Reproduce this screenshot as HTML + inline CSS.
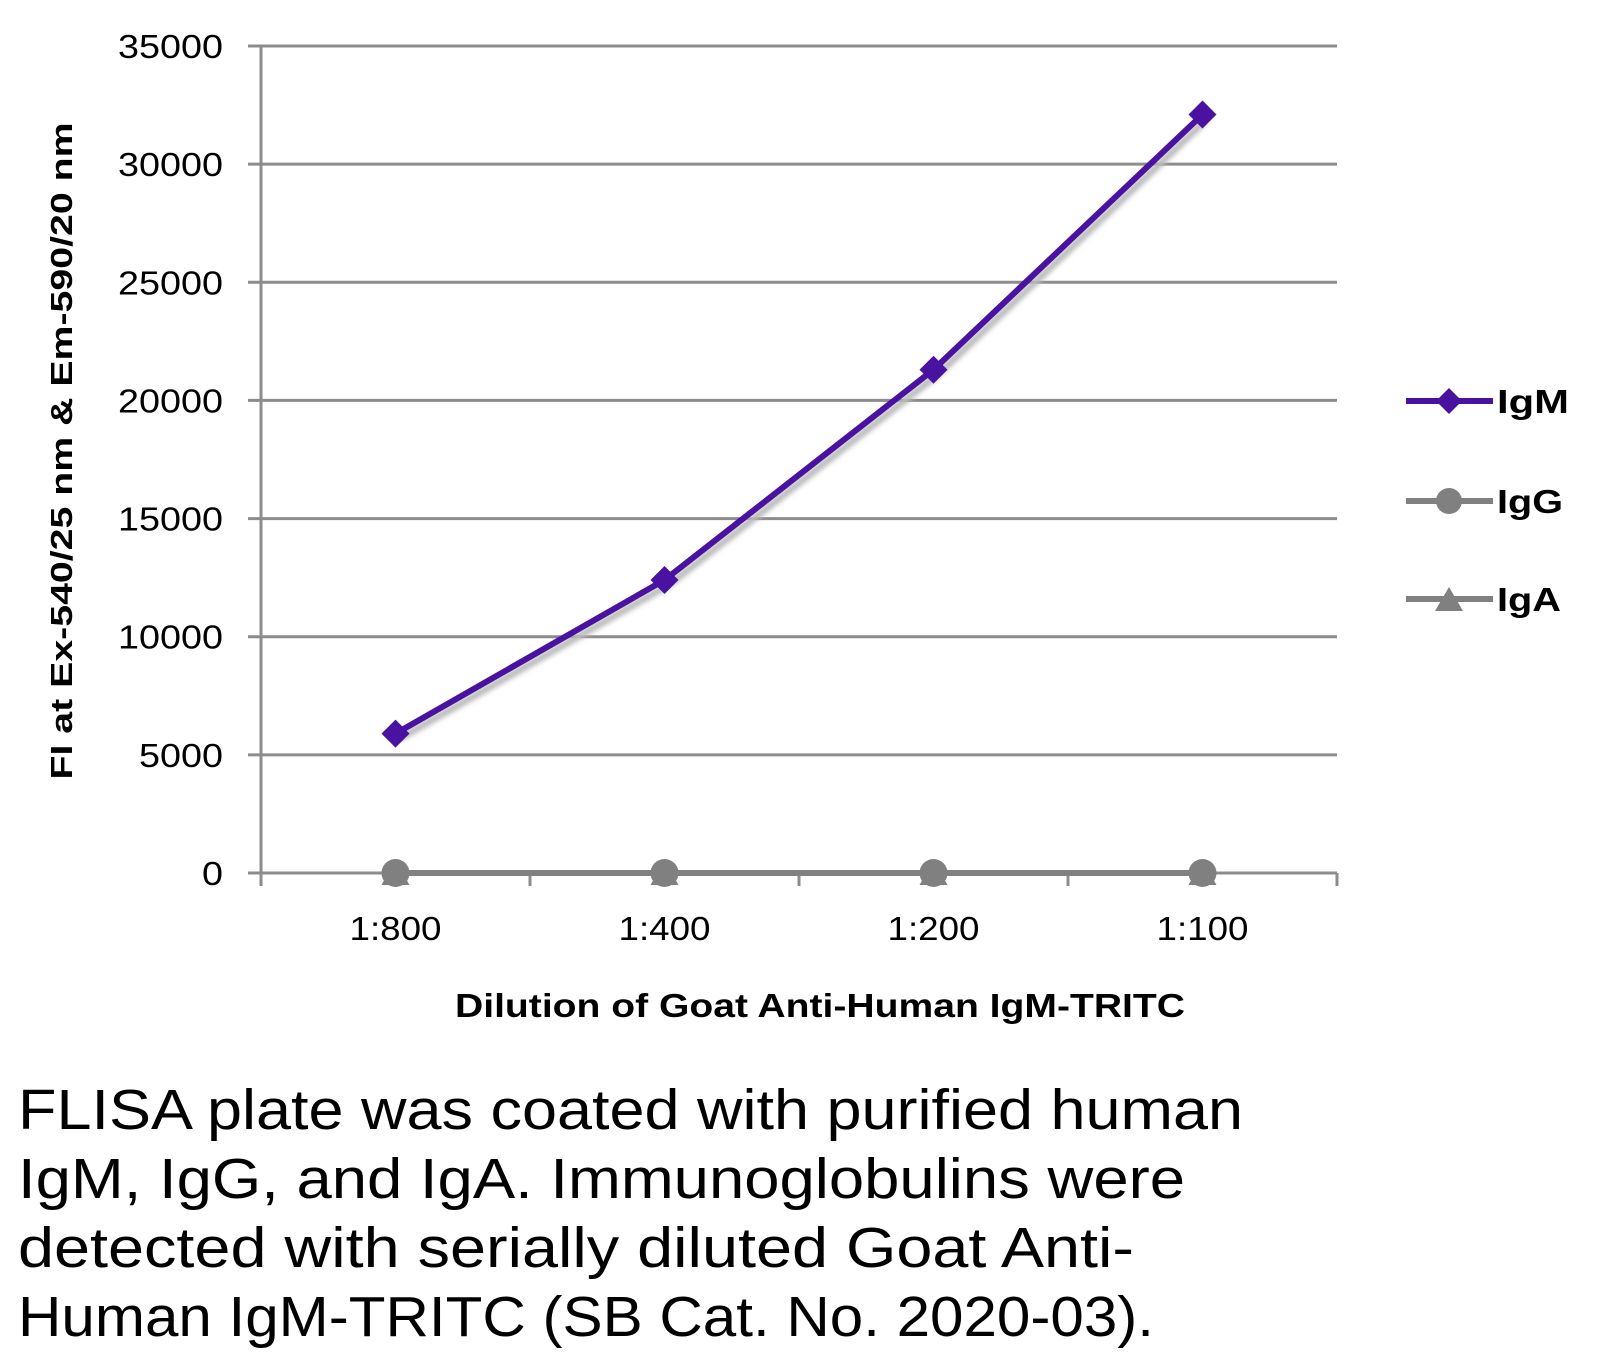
<!DOCTYPE html>
<html><head><meta charset="utf-8"><style>
html,body{margin:0;padding:0;background:#fff;}
svg{display:block;font-family:"Liberation Sans",sans-serif;}
</style></head><body>
<svg id="chart" width="1605" height="1362" viewBox="0 0 1605 1362" xmlns="http://www.w3.org/2000/svg">
<defs><filter id="sh" x="-10%" y="-10%" width="120%" height="120%"><feGaussianBlur stdDeviation="2.5"/></filter></defs>
<g id="grid"></g><g id="axes"></g><g id="series"></g>
<text transform="translate(72,451) rotate(-90)" text-anchor="middle" font-weight="bold" font-size="31" textLength="657" lengthAdjust="spacingAndGlyphs">FI at Ex-540/25 nm &amp; Em-590/20 nm</text>
<text x="820" y="1017" text-anchor="middle" font-weight="bold" font-size="33" textLength="730" lengthAdjust="spacingAndGlyphs">Dilution of Goat Anti-Human IgM-TRITC</text>
<g>
<g><line x1="1406" y1="401" x2="1493" y2="401" stroke="#4a12a0" stroke-width="6"/><path d="M1449 388 L1462 401 L1449 414 L1436 401Z" fill="#4a12a0"/><text x="1497" y="413" font-weight="bold" font-size="33" textLength="72" lengthAdjust="spacingAndGlyphs">IgM</text></g>
<g><line x1="1406" y1="501" x2="1493" y2="501" stroke="#808080" stroke-width="6"/><circle cx="1449" cy="501" r="13" fill="#808080"/><text x="1497" y="513" font-weight="bold" font-size="33" textLength="66" lengthAdjust="spacingAndGlyphs">IgG</text></g>
<g><line x1="1406" y1="599" x2="1493" y2="599" stroke="#808080" stroke-width="6"/><path d="M1449 587 L1463 611 L1435 611Z" fill="#808080"/><text x="1497" y="611" font-weight="bold" font-size="33" textLength="64" lengthAdjust="spacingAndGlyphs">IgA</text></g>
</g>
<g font-size="57" fill="#000">
<text x="18" y="1129" textLength="1225" lengthAdjust="spacingAndGlyphs">FLISA plate was coated with purified human</text>
<text x="18" y="1198" textLength="1167" lengthAdjust="spacingAndGlyphs">IgM, IgG, and IgA.  Immunoglobulins were</text>
<text x="18" y="1267" textLength="1116" lengthAdjust="spacingAndGlyphs">detected with serially diluted Goat Anti-</text>
<text x="18" y="1336" textLength="1136" lengthAdjust="spacingAndGlyphs">Human IgM-TRITC (SB Cat. No. 2020-03).</text>
</g>
</svg>
<script>
const categories = ["1:800","1:400","1:200","1:100"];
const igmValues = [5900, 12400, 21300, 32100];
const iggValues = [0, 0, 0, 0];
const igaValues = [0, 0, 0, 0];
const yTicks = [0,5000,10000,15000,20000,25000,30000,35000];
const X0=261, X1=1337, Y0=873, Y1=46, YMAX=35000;
const NS="http://www.w3.org/2000/svg";
const band=(X1-X0)/categories.length;
const xs=i=>X0+band*(i+0.5);
const ys=v=>Y0-(v/YMAX)*(Y0-Y1);
function mk(tag,attrs,parent){const e=document.createElementNS(NS,tag);for(const k in attrs)e.setAttribute(k,attrs[k]);parent.appendChild(e);return e;}
const grid=document.getElementById('grid'),axes=document.getElementById('axes'),ser=document.getElementById('series');
yTicks.forEach(t=>{
  const y=ys(t);
  if(t>0){const l=mk('line',{x1:X0-13,x2:X1,y1:y,y2:y,stroke:'#8c8c8c','stroke-width':3},grid);
  
  }
  const tx=mk('text',{x:223,y:y+12,'text-anchor':'end','font-size':33,textLength:t>=10000?105:(t>0?84:21),lengthAdjust:'spacingAndGlyphs'},axes);
  tx.textContent=t;
  
  
});
const ya=mk('line',{x1:X0,x2:X0,y1:Y1,y2:Y0+13,stroke:'#8c8c8c','stroke-width':3},axes);


const xa=mk('line',{x1:X0-13,x2:X1,y1:Y0,y2:Y0,stroke:'#8c8c8c','stroke-width':3},axes);


for(let i=0;i<=categories.length;i++){
  const tk=mk('line',{x1:X0+band*i,x2:X0+band*i,y1:Y0,y2:Y0+13,stroke:'#8c8c8c','stroke-width':3},axes);
  
  
}
categories.forEach((c,i)=>{
  const tx=mk('text',{x:xs(i),y:940,'text-anchor':'middle','font-size':33,textLength:92,lengthAdjust:'spacingAndGlyphs'},axes);
  tx.textContent=c;
  
  
});
function series(vals,color,shape,name){
  const g=mk('g',{},ser);
  
  
  const pts=vals.map((v,i)=>xs(i)+','+ys(v)).join(' ');
  mk('polyline',{points:vals.map((v,i)=>(xs(i)+4)+','+(ys(v)+5)).join(' '),fill:'none',stroke:'#bbb','stroke-width':7,filter:'url(#sh)'},g);
  mk('polyline',{points:pts,fill:'none',stroke:color,'stroke-width':6,'stroke-linejoin':'round'},g);
  vals.forEach((v,i)=>{
    const x=xs(i),y=ys(v);let m;
    if(shape==='diamond')m=mk('path',{d:`M${x} ${y-14} L${x+14} ${y} L${x} ${y+14} L${x-14} ${y}Z`,fill:color},g);
    else if(shape==='circle')m=mk('circle',{cx:x,cy:y,r:14,fill:color},g);
    else m=mk('path',{d:`M${x} ${y-13} L${x+14} ${y+12} L${x-14} ${y+12}Z`,fill:color},g);
    
    
  });
}
series(igaValues,'#808080','triangle','series-iga');
series(iggValues,'#808080','circle','series-igg');
series(igmValues,'#4a12a0','diamond','series-igm');
</script>
</body></html>
